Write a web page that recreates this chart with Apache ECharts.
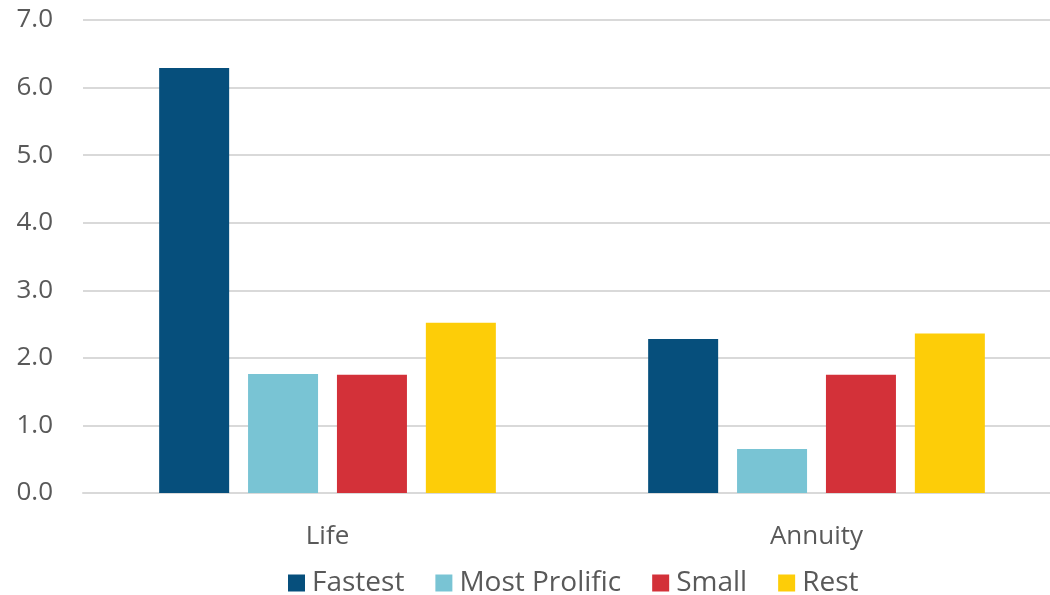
<!DOCTYPE html>
<html>
<head>
<meta charset="utf-8">
<script src="https://cdn.jsdelivr.net/npm/echarts@6/dist/echarts.min.js"></script>
<style>
  html, body { margin: 0; padding: 0; background: #fff; }
  #chart { width: 1050px; height: 595px; }
</style>
</head>
<body>
<div id="chart"></div>
<script>
const categories = ['Life', 'Annuity'];
const fastest = [6.29, 2.28];
const most_prolific = [1.76, 0.65];
const small = [1.75, 1.75];
const rest = [2.52, 2.36];
const y_ticks = { min: 0, max: 7, interval: 1 };

const chart = echarts.init(document.getElementById('chart'));
const font = '"Open Sans", "Noto Sans", sans-serif';

const make_series = (name, data, color) => ({
    name: name,
    type: 'bar',
    data: data,
    barWidth: 70,
    barGap: '27%',
    itemStyle: { color: color }
});

chart.setOption({
    animation: false,
    textStyle: { fontFamily: font },
    // the plot runs a little past the right edge, as in the original
    grid: { left: 83, width: 978, top: 20, height: 473, outerBoundsMode: 'none' },
    legend: {
        top: 564,
        left: 283,
        itemWidth: 17,
        itemHeight: 17,
        itemGap: 31,
        icon: 'rect',
        textStyle: { fontSize: 28, color: '#595959', fontFamily: font, padding: [0, 0, 0, 2] }
    },
    xAxis: {
        type: 'category',
        data: categories,
        axisLine: { lineStyle: { color: '#d9d9d9', width: 2 } },
        axisTick: { show: false },
        axisLabel: { fontSize: 26, color: '#595959', margin: 31 }
    },
    yAxis: {
        type: 'value',
        min: y_ticks.min,
        max: y_ticks.max,
        interval: y_ticks.interval,
        axisLine: { show: false },
        axisTick: { show: false },
        splitLine: { lineStyle: { color: '#d9d9d9', width: 2 } },
        axisLabel: {
            fontSize: 26,
            color: '#595959',
            margin: 30,
            formatter: (v) => v.toFixed(1)
        }
    },
    series: [
        make_series('Fastest', fastest, '#064f7c'),
        make_series('Most Prolific', most_prolific, '#79c4d4'),
        make_series('Small', small, '#d33139'),
        make_series('Rest', rest, '#fdcd08')
    ]
});
</script>
</body>
</html>
